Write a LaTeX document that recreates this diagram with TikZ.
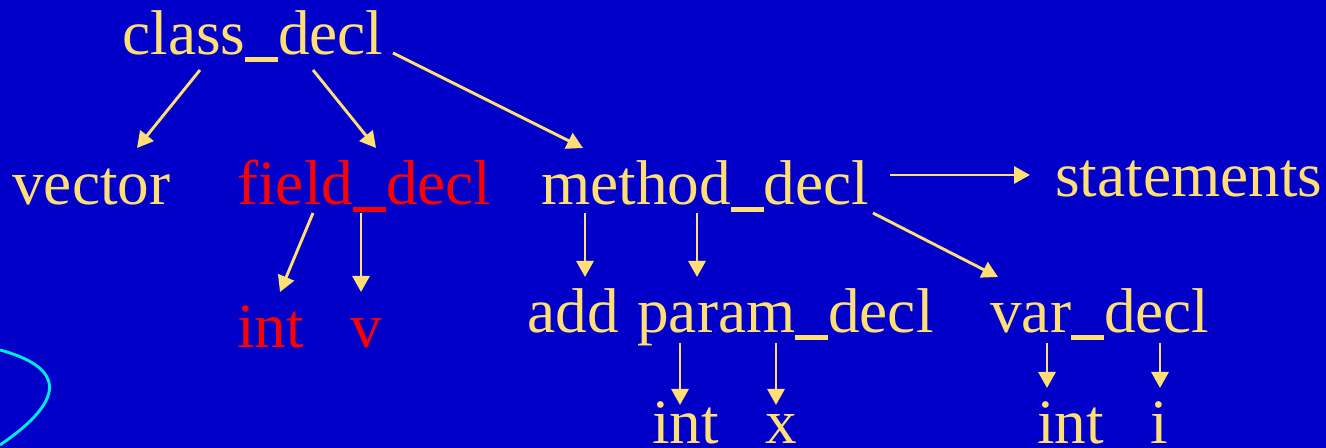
\documentclass[tikz,border=0pt]{standalone}
\usepackage{fontspec}
\setmainfont{Liberation Serif}
\usepackage{tikz}
\usetikzlibrary{arrows.meta, calc}
\definecolor{slideblue}{RGB}{0,0,200}
\definecolor{txtyellow}{RGB}{255,222,115}
\definecolor{txtred}{RGB}{255,0,0}
\definecolor{curvecyan}{RGB}{0,235,235}
\newcommand{\usc}{\rule[-0.11em]{0.52em}{0.085em}}
\tikzset{
  term/.style={anchor=base west, inner sep=0pt, text=txtyellow,
    font=\fontsize{36}{40}\selectfont},
  redterm/.style={term, text=txtred},
  arrow/.style={-{Triangle[length=0.32cm, width=0.34cm]}, line width=0.058cm, color=txtyellow}
}
\begin{document}
\begin{tikzpicture}[x=0.02cm, y=-0.02cm]
  \useasboundingbox (0,0) rectangle (1326,448);
  \fill[slideblue] (0,0) rectangle (1326,448);
  \draw[curvecyan, line width=0.058cm] (0,350) .. controls (66,368) and (66,400) .. (0,445);

  \node[term]    (cls)  at (122,55)  {class\usc decl};
  \node[term]    (vec)  at (12,205)  {vector};
  \node[redterm] (fld)  at (237,205) {field\usc decl};
  \node[term]    (mth)  at (541,205) {method\usc decl};
  \node[term]    (stm)  at (1055,197) {statements};
  \node[redterm] (fint) at (237,348) {int};
  \node[redterm] (fv)   at (350,348) {v};
  \node[term]    (add)  at (527,333) {add};
  \node[term]    (prm)  at (637,333) {param\usc decl};
  \node[term]    (var)  at (990,333) {var\usc decl};
  \node[term]    (pint) at (652,444) {int};
  \node[term]    (px)   at (765,444) {x};
  \node[term]    (vint) at (1037,444) {int};
  \node[term]    (vi)   at (1150,444) {i};

  \draw[arrow] ($(cls.base west)+(78,15)$)  -- ($(vec.base west)+(125,-57)$);
  \draw[arrow] ($(cls.base west)+(191,15)$) -- ($(fld.base west)+(139,-57)$);
  \draw[arrow] ($(cls.base west)+(271,-2)$) -- ($(mth.base west)+(42,-57)$);
  \draw[arrow] ($(mth.base west)+(349,-30)$) -- ($(stm.base west)+(-25,-22)$);
  \draw[arrow] ($(mth.base west)+(332,8)$)  -- ($(var.base west)+(8,-56)$);
  \draw[arrow] ($(mth.base west)+(44,8)$)   -- ($(add.base west)+(58,-56)$);
  \draw[arrow] ($(mth.base west)+(156,8)$)  -- ($(prm.base west)+(60,-56)$);
  \draw[arrow] ($(fld.base west)+(76,8)$)   -- ($(fint.base west)+(43,-56)$);
  \draw[arrow] ($(fld.base west)+(124,8)$)  -- ($(fv.base west)+(11,-56)$);
  \draw[arrow] ($(prm.base west)+(43,10)$)  -- ($(pint.base west)+(28,-39)$);
  \draw[arrow] ($(prm.base west)+(139,10)$) -- ($(px.base west)+(11,-39)$);
  \draw[arrow] ($(var.base west)+(57,10)$)  -- ($(vint.base west)+(10,-56)$);
  \draw[arrow] ($(var.base west)+(170,10)$) -- ($(vi.base west)+(10,-56)$);
\end{tikzpicture}
\end{document}
